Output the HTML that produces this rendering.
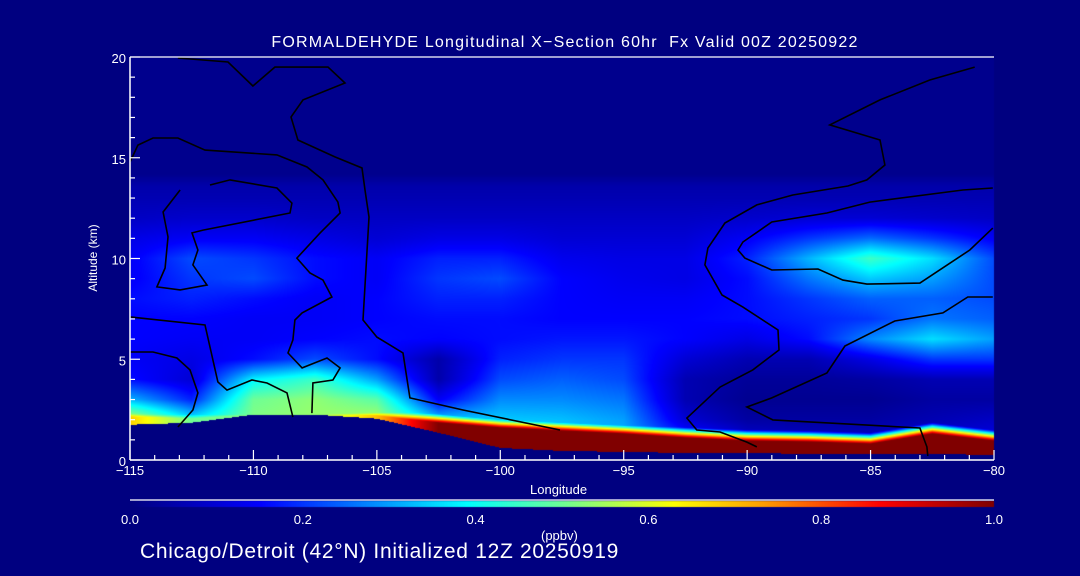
<!DOCTYPE html>
<html><head><meta charset="utf-8">
<style>
html,body{margin:0;padding:0;background:#000080;width:1080px;height:576px;overflow:hidden}
#wrap{position:relative;width:1080px;height:576px;font-family:"Liberation Sans",sans-serif;color:#fff}
.t{position:absolute;white-space:nowrap;color:#fff}
canvas,svg{position:absolute;left:0;top:0}
</style></head>
<body>
<div id="wrap">
<canvas id="cv" width="1080" height="576"></canvas>
<svg id="sv" width="1080" height="576"></svg>
<div class="t" style="left:0;width:1130px;text-align:center;top:34px;font-size:16px;letter-spacing:1.2px">FORMALDEHYDE Longitudinal X&#8722;Section 60hr&nbsp;&nbsp;Fx Valid 00Z 20250922</div>
<div class="t" style="left:93px;top:258px;font-size:12px;transform:translate(-50%,-50%) rotate(-90deg)">Altitude (km)</div>
<div class="t" style="left:530px;top:482px;font-size:13px">Longitude</div>
<div class="t" style="left:541px;top:528px;font-size:13px">(ppbv)</div>
<div class="t" style="left:140px;top:540px;font-size:21px;letter-spacing:0.7px">Chicago/Detroit (42°N) Initialized 12Z 20250919</div>
</div>
<script>
const lons=[-115,-112.5,-110,-107.5,-105,-102.5,-100,-97.5,-95,-92.5,-90,-87.5,-85,-82.5,-80];
const alts=[0,1,2,3,4,5,6,7,8,9,10,11,12,13,13.6,14.2,20];
const row0 =[0.65,0.5,0.52,0.53,0.56,0.42,0.36,0.34,0.32,0.2,0.1,0.08,0.08,0.1,0.12];
const row1 =[0.65,0.5,0.52,0.53,0.56,0.42,0.36,0.34,0.32,0.2,0.1,0.08,0.08,0.1,0.12];
const row2 =[0.6,0.38,0.52,0.54,0.56,0.34,0.34,0.33,0.3,0.1,0.04,0.04,0.04,0.06,0.08];
const row3 =[0.32,0.18,0.5,0.53,0.48,0.14,0.28,0.28,0.26,0.06,0.02,0.02,0.02,0.04,0.04];
const row4 =[0.16,0.1,0.38,0.45,0.3,0.05,0.22,0.24,0.22,0.06,0.03,0.03,0.04,0.06,0.06];
const row5 =[0.14,0.12,0.16,0.22,0.16,0.05,0.18,0.2,0.2,0.1,0.06,0.06,0.12,0.2,0.2];
const row6 =[0.15,0.14,0.14,0.15,0.16,0.15,0.16,0.17,0.17,0.15,0.12,0.16,0.28,0.36,0.3];
const row7 =[0.15,0.15,0.14,0.14,0.15,0.16,0.16,0.15,0.15,0.15,0.16,0.18,0.2,0.26,0.24];
const row8 =[0.16,0.18,0.16,0.14,0.15,0.18,0.18,0.15,0.14,0.14,0.16,0.2,0.24,0.24,0.22];
const row9 =[0.14,0.2,0.22,0.16,0.14,0.2,0.22,0.15,0.13,0.12,0.16,0.26,0.34,0.3,0.22];
const row10=[0.14,0.22,0.2,0.16,0.14,0.18,0.18,0.13,0.12,0.12,0.18,0.32,0.45,0.36,0.22];
const row11=[0.12,0.14,0.14,0.12,0.1,0.12,0.12,0.1,0.1,0.1,0.14,0.2,0.25,0.2,0.14];
const row12=[0.08,0.09,0.09,0.08,0.08,0.08,0.08,0.08,0.08,0.08,0.09,0.1,0.1,0.09,0.08];
const row13=[0.06,0.06,0.06,0.06,0.06,0.06,0.06,0.06,0.06,0.06,0.06,0.06,0.06,0.06,0.06];
const row14=[0.05,0.05,0.05,0.05,0.05,0.05,0.05,0.05,0.05,0.05,0.05,0.05,0.05,0.05,0.05];
const row15=[0.015,0.015,0.015,0.015,0.015,0.015,0.015,0.015,0.015,0.015,0.015,0.015,0.015,0.015,0.015];
const row16=[0.015,0.015,0.015,0.015,0.015,0.015,0.015,0.015,0.015,0.015,0.015,0.015,0.015,0.015,0.015];
const terrain=[1.75,1.85,2.25,2.25,2.05,1.35,0.6,0.45,0.4,0.35,0.35,0.3,0.3,0.3,0.25];
const surfVal=[0.68,0.5,0.52,0.53,0.7,1,1,1,1,1,1,1,1,1,1];
const surfThick=[0.4,0.2,0,0,0.15,0.5,1.0,1.0,0.9,0.75,0.6,0.6,0.5,1.0,0.7];
const xTicks=[-115,-110,-105,-100,-95,-90,-85,-80];
const yTicks=[0,5,10,15,20];
const cbTicks=["0.0","0.2","0.4","0.6","0.8","1.0"];
const contourA=[[-113.06,19.95],[-111.03,19.75],[-110.02,18.56],[-109.13,19.5],[-106.98,19.5],[-106.29,18.71],[-107.99,17.87],[-108.48,17.02],[-108.2,15.88],[-106.7,15.04],[-105.6,14.49],[-105.48,13.4],[-105.32,12.06],[-105.56,6.95],[-105,6.1],[-103.94,5.31],[-103.66,3.08],[-101.51,2.48],[-97.58,1.49]];
const contourB=[[-80.78,19.5],[-82.6,18.86],[-84.62,17.87],[-86.65,16.63],[-84.62,15.88],[-84.42,14.64],[-85.15,13.9],[-85.92,13.6],[-88.15,13.15],[-89.61,12.66],[-90.9,11.76],[-91.59,10.52],[-91.71,9.68],[-91.02,8.19],[-90.17,7.59],[-88.75,6.45],[-88.71,5.46],[-89.77,4.47],[-91.1,3.62],[-92.44,2.08],[-92.04,1.49],[-91.1,1.39],[-90.01,0.89],[-89.61,0.65]];
const contourC=[[-80.05,13.5],[-81.26,13.4],[-85.03,12.8],[-86.77,12.26],[-89,11.81],[-90.17,10.82],[-90.37,10.42],[-90.09,10.02],[-89,9.43],[-87.13,9.48],[-86.12,8.93],[-85.15,8.73],[-83,8.78],[-80.98,10.42],[-80.05,11.51]];
const contourD=[[-80.05,8.09],[-81.06,8.09],[-82.07,7.3],[-84.02,6.9],[-86.04,5.66],[-86.77,4.32],[-89,3.08],[-90.01,2.63],[-88.96,1.99],[-83,1.59],[-82.72,0.65],[-82.68,0.2]];
const contourE=[[-112.97,13.4],[-113.66,12.31],[-113.46,11.07],[-113.58,9.53],[-113.91,8.59],[-112.97,8.44],[-111.88,8.68],[-112.45,9.68],[-112.25,10.42],[-112.49,11.27],[-112.04,11.41],[-108.52,12.26],[-108.44,12.75],[-109.05,13.5],[-110.95,13.9],[-111.76,13.65]];
const contourF=[[-115,14.79],[-114.68,15.63],[-114.07,15.98],[-113.06,15.98],[-111.96,15.38],[-109.05,15.14],[-107.83,14.54],[-107.18,13.9],[-106.58,12.8],[-106.49,12.26],[-107.3,11.27],[-108.24,10.02],[-107.71,9.28],[-107.18,8.93],[-106.82,8.09],[-108.03,7.3],[-108.32,6.95],[-108.4,5.96],[-108.6,5.31],[-108.03,4.57],[-107.02,5.06],[-106.49,4.57],[-106.78,3.97],[-107.59,3.82],[-107.63,2.33]];
const contourG=[[-115,7.1],[-111.96,6.7],[-111.44,3.87],[-111.07,3.47],[-110.06,3.97],[-109.45,3.82],[-108.64,3.33],[-108.4,2.13]];
const contourH=[[-115,5.36],[-114.07,5.36],[-113.1,5.06],[-112.57,4.47],[-112.25,3.33],[-112.45,2.48],[-113.06,1.64]];
const contours=[contourA,contourB,contourC,contourD,contourE,contourF,contourG,contourH];

const rows=[row0,row1,row2,row3,row4,row5,row6,row7,row8,row9,row10,row11,row12,row13,row14,row15,row16];
const X0=130,X1=994,Y0=460,Y1=57;
function X(lon){return X0+(lon+115)/35*(X1-X0);}
function Y(z){return Y0-z/20*(Y0-Y1);}
function lonAt(px){return -115+(px-X0)/(X1-X0)*35;}
function altAt(py){return (Y0-py)/(Y0-Y1)*20;}
function interp1(arr,lon){let f=(lon+115)/2.5;let i=Math.max(0,Math.min(lons.length-2,Math.floor(f)));let t=f-i;return arr[i]*(1-t)+arr[i+1]*t;}
function field(lon,z){
  let j=0;while(j<alts.length-2&&z>alts[j+1])j++;
  let t=Math.max(0,Math.min(1,(z-alts[j])/(alts[j+1]-alts[j])));
  return interp1(rows[j],lon)*(1-t)+interp1(rows[j+1],lon)*t;
}
const stops=[[0,0,0,128],[0.15,0,0,255],[0.39,0,255,255],[0.5,110,255,150],[0.63,255,255,0],[0.73,255,160,0],[0.87,255,0,0],[1,128,0,0]];
function cmap(v){v=Math.max(0,Math.min(1,v));for(let i=0;i<stops.length-1;i++){const a=stops[i],b=stops[i+1];if(v<=b[0]){const t=(v-a[0])/(b[0]-a[0]);return [a[1]+(b[1]-a[1])*t,a[2]+(b[2]-a[2])*t,a[3]+(b[3]-a[3])*t];}}return [128,0,0];}
const cv=document.getElementById('cv');const ctx=cv.getContext('2d');
ctx.fillStyle='#000080';ctx.fillRect(0,0,1080,576);
const W=X1-X0,H=Y0-Y1;const img=ctx.createImageData(W,H);
for(let py=0;py<H;py++){for(let px=0;px<W;px++){
  const lon=lonAt(X0+px+0.5),z=altAt(Y1+py+0.5);
  const ter=interp1(terrain,lon);let c;
  if(z<ter){c=[0,0,128];}
  else{let v=field(lon,z);const dz=z-ter;const th=interp1(surfThick,lon);const sv=interp1(surfVal,lon);
    let fade=dz<th?1:Math.max(0,1-(dz-th)/0.6);v=Math.max(v,sv*fade);c=cmap(v);}
  const k=(py*W+px)*4;img.data[k]=c[0];img.data[k+1]=c[1];img.data[k+2]=c[2];img.data[k+3]=255;}}
ctx.putImageData(img,X0,Y1);
for(let px=0;px<W;px++){const c=cmap(px/(W-1));ctx.fillStyle=`rgb(${c[0]|0},${c[1]|0},${c[2]|0})`;ctx.fillRect(X0+px,501,1,6);}
const NS='http://www.w3.org/2000/svg';const sv=document.getElementById('sv');
function el(tag,attrs){const e=document.createElementNS(NS,tag);for(const k in attrs)e.setAttribute(k,attrs[k]);sv.appendChild(e);return e;}
contours.forEach((c,i)=>{const p=el('polyline',{points:c.map(q=>X(q[0]).toFixed(1)+','+Y(q[1]).toFixed(1)).join(' '),fill:'none',stroke:'#000','stroke-width':1.6});
  
  });
let a=el('line',{x1:X0,y1:Y0,x2:X1,y2:Y0,stroke:'#fff','stroke-width':1.5});


a=el('line',{x1:X0,y1:Y0,x2:X0,y2:Y1,stroke:'#fff','stroke-width':1.5});


a=el('line',{x1:X0,y1:Y1,x2:X1,y2:Y1,stroke:'#fff','stroke-width':1.2});


a=el('line',{x1:X0,y1:500,x2:X1,y2:500,stroke:'#fff','stroke-width':1.2});


for(let l=-115;l<=-80;l++){const maj=(l%5===0);const t=el('line',{x1:X(l),y1:Y0,x2:X(l),y2:Y0-(maj?10:5),stroke:'#fff','stroke-width':1.2});
  
  }
for(let z=0;z<=20;z++){const maj=(z%5===0);const t=el('line',{x1:X0,y1:Y(z),x2:X0+(maj?10:5),y2:Y(z),stroke:'#fff','stroke-width':1.2});
  
  }
xTicks.forEach(l=>{const t=el('text',{x:X(l),y:475,fill:'#fff','font-size':13,'text-anchor':'middle','font-family':'Liberation Sans, sans-serif'});t.textContent=(l<0?'\u2212'+(-l):l);
  
  });
yTicks.forEach(z=>{const t=el('text',{x:X0-4,y:Y(z)+6,fill:'#fff','font-size':13,'text-anchor':'end','font-family':'Liberation Sans, sans-serif'});t.textContent=z;
  
  });
cbTicks.forEach((s,i)=>{const t=el('text',{x:X0+i/(cbTicks.length-1)*W,y:524,fill:'#fff','font-size':13,'text-anchor':'middle','font-family':'Liberation Sans, sans-serif'});t.textContent=s;
  
  });
</script>
</body></html>
